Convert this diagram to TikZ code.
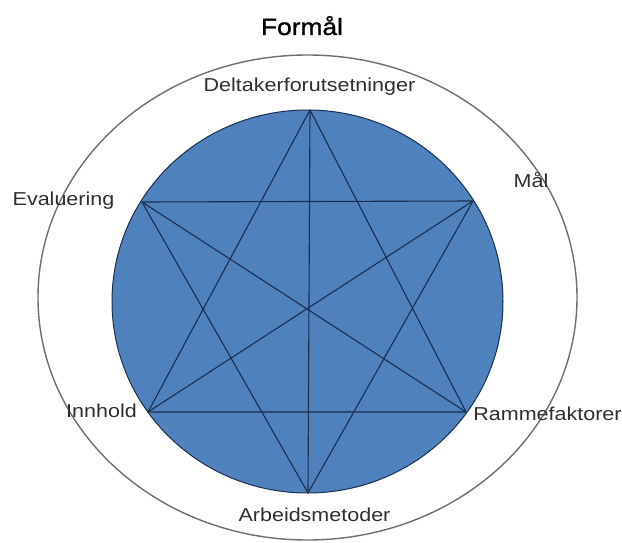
\documentclass[tikz,border=0pt]{standalone}
\usepackage{fontspec}
\setmainfont{Liberation Sans}
\newfontfamily\lblfont[FakeStretch=1.15]{Liberation Sans}
\newfontfamily\titlefont[FakeStretch=1.12, FakeBold=1.2]{Liberation Sans}
\usetikzlibrary{calc}
\definecolor{fillblue}{HTML}{4F81BD}
\definecolor{starline}{HTML}{1B2F52}
\definecolor{rimgray}{HTML}{6E6E6E}
\definecolor{textgray}{HTML}{2E2E2E}

\begin{document}
\begin{tikzpicture}[x=1pt, y=-1pt, line join=round, line cap=round,
    lbl/.style={text=textgray, anchor=base, inner sep=0pt, font=\lblfont\fontsize{18.7}{20}\selectfont},
    starlinje/.style={draw=starline, line width=1.1pt}]
    \useasboundingbox (0,0) rectangle (622,543);

    % Ytre ellipse (formål)
    \draw[rimgray, line width=1.4pt] (307.5,297.5) ellipse [x radius=269.5, y radius=242.5];

    % Blå sirkel
    \draw[fill=fillblue, draw=starline, line width=1pt] (307.5,301.5) ellipse [x radius=195.5, y radius=191.5];

    % Hjørner i stjernen (ligger på sirkelen)
    \coordinate (D) at (310,110);
    \coordinate (M) at (473,201);
    \coordinate (R) at (466,412);
    \coordinate (A) at (308,493);
    \coordinate (I) at (148,412);
    \coordinate (E) at (142,202);

    % De to trekantene
    \draw[starlinje] (D) -- (R) -- (I) -- cycle;
    \draw[starlinje] (E) -- (M) -- (A) -- cycle;

    % Linjer gjennom sentrum
    \draw[starlinje] (D) -- (A);
    \draw[starlinje] (E) -- (R);
    \draw[starlinje] (M) -- (I);

    % Overskrift
    \node[lbl, text=black, font=\titlefont\fontsize{23.5}{26}\selectfont] (formal) at (302,35) {Formål};

    % Navn på hjørnene
    \node[lbl] (deltaker) at (309.5,92) {Deltakerforutsetninger};
    \node[lbl] (evaluering) at (63.5,205) {Evaluering};
    \node[lbl] (maal) at (531,187) {Mål};
    \node[lbl] (innhold) at (101.5,417) {Innhold};
    \node[lbl] (ramme) at (547.5,420) {Rammefaktorer};
    \node[lbl] (arbeid) at (314.5,521.5) {Arbeidsmetoder};
\end{tikzpicture}
\end{document}
